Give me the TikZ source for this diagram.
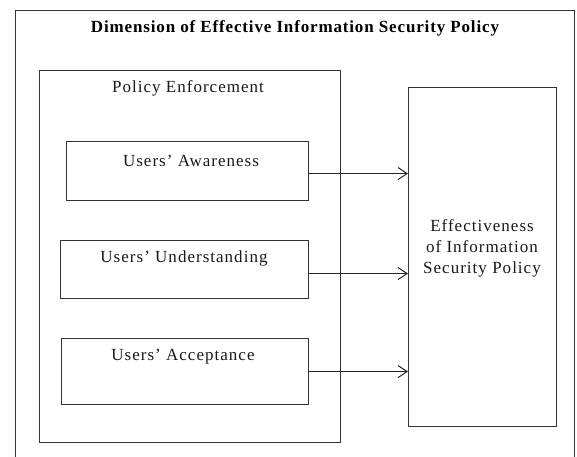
\documentclass[tikz,border=0pt]{standalone}
\usepackage{fontspec}
\setmainfont{Liberation Serif}
\usetikzlibrary{arrows.meta,calc}
\begin{document}
\begin{tikzpicture}[x=1pt,y=-1pt,
  line/.style={draw=black!80,line width=1.1pt},
  box/.style={line,rectangle,inner sep=0pt,anchor=north west},
  txt/.style={inner sep=0pt,font=\fontsize{17}{21}\selectfont\addfontfeature{LetterSpace=6},text=black!90},
  conn/.style={draw=black!85,line width=1pt,-{Straight Barb[length=9pt,width=12pt,line width=1pt]}}]
\useasboundingbox (0,0) rectangle (577,456);
\clip (0,0) rectangle (577,456);
% outer frame
\node[box,minimum width=559pt,minimum height=470pt] (outer) at (15,10) {};
\node[inner sep=0pt,font=\fontsize{17}{20}\selectfont\bfseries\addfontfeature{LetterSpace=5}] (title) at (295,28) {Dimension of Effective Information Security Policy};
% policy enforcement
\node[box,minimum width=301pt,minimum height=372pt] (pe) at (39,70) {};
\node[txt] (petxt) at (188,88) {Policy Enforcement};
% three boxes
\node[box,minimum width=242pt,minimum height=59pt] (aw) at (66,141) {};
\node[txt] (awtxt) at (191,161) {Users’ Awareness};
\node[box,minimum width=248pt,minimum height=58pt] (un) at (60,240) {};
\node[txt] (untxt) at (184,258) {Users’ Understanding};
\node[box,minimum width=247pt,minimum height=66pt] (ac) at (61,338) {};
\node[txt] (actxt) at (183,357) {Users’ Acceptance};
% effectiveness
\node[box,minimum width=148pt,minimum height=339pt] (eff) at (408,87) {};
\node[txt,align=center] (efftxt) at (482,248) {Effectiveness\\of Information\\Security Policy};
% connectors
\draw[conn] ([yshift=-2.5pt]aw.east) -- ([yshift=-2.5pt]aw.east -| eff.west);
\draw[conn] ([yshift=-4pt]un.east) -- ([yshift=-4pt]un.east -| eff.west);
\draw[conn] (ac.east) -- (ac.east -| eff.west);
\end{tikzpicture}
\end{document}
